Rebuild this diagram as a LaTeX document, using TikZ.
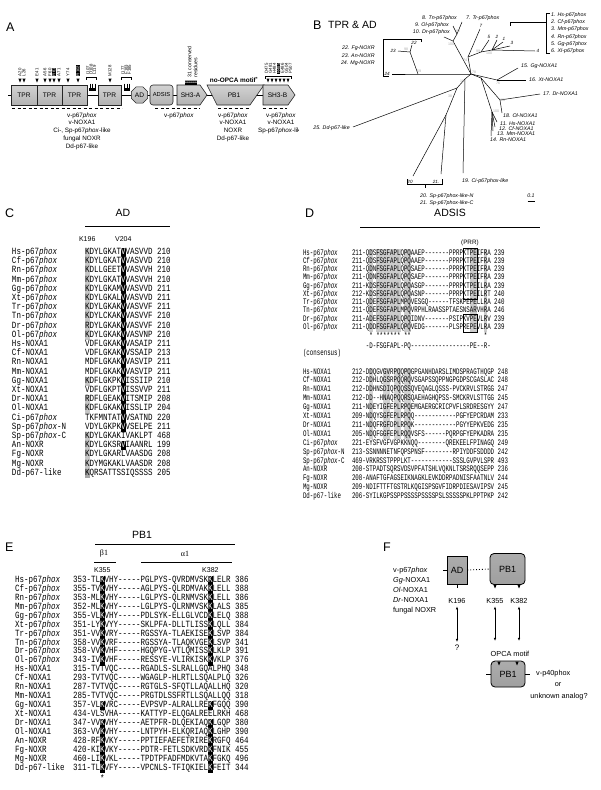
\documentclass[tikz,border=0pt]{standalone}
\usepackage{fontspec}
\setmainfont{Liberation Sans}
\newfontfamily\sqfont[FakeStretch=0.79]{Liberation Mono}
\newfontfamily\sqdfont[FakeStretch=0.68]{Liberation Mono}
\newfontfamily\serfont{Liberation Serif}
\usetikzlibrary{shapes.geometric,arrows.meta}
\newlength\cwl
\newlength\cwdl
\newlength\rowhl
\setlength\rowhl{9.2pt}
\newcommand\sqf{\sqfont\fontsize{9.5}{10}\selectfont}
\newcommand\sqdf{\sqdfont\fontsize{8.5}{9}\selectfont}
\newcommand\bk[1]{\makebox[0pt][l]{\rule[-2.7pt]{\cwl}{\rowhl}}\textcolor{white}{#1}}
\newcommand\gy[1]{\makebox[0pt][l]{\textcolor{gray!45}{\rule[-2.7pt]{\cwl}{\rowhl}}}#1}
\newcommand\dg[1]{\makebox[0pt][l]{\textcolor{gray!70}{\rule[-2.7pt]{\cwl}{\rowhl}}}#1}
\newcommand\bld[1]{\hspace*{#1\cwdl}}
\newcommand\phx{\textit{phox}}
\newcommand\Crow[3]{\node[sq] (cn#1) at (12,{254.5+9.2*#1}) {#2}; \node[sq] (cs#1) at (85,{254.5+9.2*#1}) {#3};}
\newcommand\Drow[3]{\node[sqd] (dn#1) at (303,{255+8.25*#1}) {#2}; \node[sqd] (ds#1) at (352,{255+8.25*#1}) {#3};}
\newcommand\Dnrow[3]{\node[sqd] (dm#1) at (303,{374+8.9*#1}) {#2}; \node[sqd] (dt#1) at (352,{374+8.9*#1}) {#3};}
\newcommand\Erow[3]{\node[sq] (en#1) at (15,{582.5+8.93*#1}) {#2}; \node[sq] (es#1) at (73,{582.5+8.93*#1}) {#3};}
\begin{document}
\settowidth{\cwl}{\sqf M}%
\settowidth{\cwdl}{\sqdf M}%
\begin{tikzpicture}[x=1pt,y=-1pt,
  sq/.style={font=\sqf, anchor=base west, inner sep=0pt, outer sep=0pt},
  sqd/.style={font=\sqdf, anchor=base west, inner sep=0pt, outer sep=0pt},
  lab/.style={font=\fontsize{6.3}{7.7}\selectfont, inner sep=0pt, align=center},
  plbl/.style={font=\fontsize{12.5}{13}\selectfont, inner sep=0pt, anchor=west},
  ttl/.style={font=\fontsize{10.5}{11}\selectfont, inner sep=0pt},
  tl/.style={font=\fontsize{5.3}{6}\selectfont\itshape, inner sep=0pt},
  tn/.style={font=\fontsize{4.6}{5}\selectfont\itshape, inner sep=0pt},
  bsv/.style={font=\fontsize{3.6}{4}\selectfont, text=gray!65, inner sep=0pt},
  vl/.style={font=\fontsize{4.3}{5}\selectfont, inner sep=0.3pt, rotate=90, anchor=west},
  vlb/.style={vl, fill=black, text=white},
  dfill/.style={draw=black!85, line width=0.6pt, top color=gray!35, middle color=gray!5, bottom color=gray!60},
  dtext/.style={font=\fontsize{6.6}{7}\selectfont, inner sep=0pt},
  dbox/.style={dfill, dtext, minimum height=20pt},
  tree/.style={line width=0.5pt},
  fbox/.style={draw=black, line width=0.8pt, top color=gray!65, middle color=white, bottom color=gray!75, font=\fontsize{9}{9}\selectfont, inner sep=0pt},
  flab/.style={font=\fontsize{7.3}{10}\selectfont, inner sep=0pt},
  dbl/.style={{Latex[length=3.2pt,width=2.6pt]}-{Latex[length=3.2pt,width=2.6pt]}, line width=0.7pt},
  dsh/.style={dash pattern=on 3.2pt off 2.3pt, line width=1pt}
]
\pgfmathsetmacro\cw{\cwl}
\pgfmathsetmacro\cwd{\cwdl}
\useasboundingbox (0,0) rectangle (600,790);
\fill[white] (0,0) rectangle (600,790);

% ================= PANEL A =================
\node[plbl] (lA) at (6,27) {A};
\draw[line width=0.9pt] (8,95) -- (263,95);
\node[dbox, minimum width=26pt] (t1) at (24,95) {TPR};
\node[dbox, minimum width=25pt] (t2) at (49.5,95) {TPR};
\node[dbox, minimum width=25pt] (t3) at (74.5,95) {TPR};
\node[dbox, minimum width=23pt] (t4) at (109.5,95) {TPR};
\node[dbox, regular polygon, regular polygon sides=8, minimum size=17.5pt] (ad) at (139.5,95) {AD};
\node[dbox, rounded corners=3pt, minimum width=23pt, font=\fontsize{5.8}{6}\selectfont] (adsis) at (161.5,95) {ADSIS};
\draw[dfill] (177,85) -- (200,85) -- (207,95) -- (200,105) -- (177,105) -- cycle;
\node[dtext] (sh3a) at (190.5,95) {SH3-A};
\draw[dfill] (207,85) -- (264,85) -- (250,105) -- (217,105) -- cycle;
\node[dtext] (pb1a) at (234,95) {PB1};
\draw[dfill] (263,85) -- (288,85) -- (295,95) -- (288,105) -- (263,105) -- cycle;
\node[dtext] (sh3b) at (277.5,95) {SH3-B};
\foreach \x in {20,24,37,45,50,54,59,68,78,110}
  \fill (\x-1.6,78.5) -- (\x+1.6,78.5) -- (\x,82.5) -- cycle;
\node[vl] (rA20) at (20,76.5) {A20};
\node[vl] (rL26) at (24,76.5) {L26};
\node[vl] (rE41) at (37,76.5) {E41};
\node[vl] (rA56) at (45,76.5) {A56};
\node[vl] (rF60) at (50,76.5) {F60};
\node[vlb] (rR61) at (54,76.5) {R61};
\node[vl] (rA71) at (59,76.5) {A71};
\node[vl] (rY74) at (68,76.5) {Y74};
\node[vlb] (rR102) at (78,76.5) {R102};
\node[vl] (rM128) at (110,76.5) {M128};
\draw (86,79.5) -- (86,77) -- (96,77) -- (96,79.5);
\fill (89,87.5) rectangle (96,91);
\foreach \x in {90,92.5,95} \draw[line width=0.7pt] (\x,83.5) -- (\x,87.5);
\node[vl] (rI107) at (88,75) {I107};
\node[vl] (rD108) at (91.2,75) {D108};
\node[vl] (rL119) at (94.4,75) {L119};
\draw (121,79.5) -- (121,77) -- (131,77) -- (131,79.5);
\fill (123.5,87.5) rectangle (130,91);
\foreach \x in {124.5,127,129.5} \draw[line width=0.7pt] (\x,83.5) -- (\x,87.5);
\node[vl] (rI177) at (123,75) {I177};
\node[vl] (rF183) at (126.2,75) {F183};
\node[vl] (rF185) at (129.4,75) {F185};
\foreach \x in {186,188,...,196} \fill (\x-1,80.5) -- (\x+1,80.5) -- (\x,84.5) -- cycle;
\fill (185,83.2) rectangle (197,85);
\node[vl, font=\fontsize{5.2}{6}\selectfont] (cons1) at (189.5,78) {31 conserved};
\node[vl, font=\fontsize{5.2}{6}\selectfont] (cons2) at (195.5,78) {residues};
\draw (265,78.5) -- (265,76) -- (291,76) -- (291,78.5);
\foreach \x in {268,272,276,280,284,288} \fill (\x-1.5,78.5) -- (\x+1.5,78.5) -- (\x,82.5) -- cycle;
\node[vl] (rD475) at (266.5,74) {D475};
\node[vl] (rG481) at (270.5,74) {G481};
\node[vl] (rH484) at (274.5,74) {H484};
\node[vlb] (rR485) at (278.5,74) {R485};
\node[vl] (rE486) at (282.5,74) {E486};
\node[vl] (rG504) at (286.5,74) {G504};
\node[vl] (rP507) at (290.5,74) {P507};
\node[font=\bfseries\fontsize{6.4}{7}\selectfont, inner sep=0pt] (nopca) at (234,80) {no-OPCA motif\textsuperscript{*}};
\draw[dsh] (12,108.5) -- (122,108.5);
\draw[dsh] (155,108.5) -- (200,108.5);
\draw[dsh] (218,108.5) -- (249,108.5);
\draw[dsh] (263,108.5) -- (287,108.5);
\node[lab, anchor=north] (la1) at (82,112.5) {v-p67\phx\\v-NOXA1\\Ci-, Sp-p67\phx-like\\fungal NOXR\\Dd-p67-like};
\node[lab, anchor=north] (la2) at (179,112.5) {v-p67\phx};
\node[lab, anchor=north] (la3) at (233,112.5) {v-p67\phx\\v-NOXA1\\NOXR\\Dd-p67-like};
\begin{scope}
\clip (250,100) rectangle (298.5,150);
\node[lab, anchor=north] (la4) at (281,112.5) {v-p67\phx\\v-NOXA1\\Sp-p67\phx-like};
\end{scope}

% ================= PANEL B =================
\node[plbl] (lB) at (313,25) {B};
\node[ttl, anchor=west] (lBt) at (328,25) {TPR \& AD};
\coordinate (c0) at (471,74);
\coordinate (p1) at (468,57); \coordinate (l7) at (480,29);
\coordinate (p2) at (481,52); \coordinate (l5) at (489,40);
\coordinate (p3) at (492,50); \coordinate (l2) at (497,40);
\coordinate (l1) at (503,42); \coordinate (l3) at (510,46); \coordinate (l4) at (535,51);
\coordinate (q1) at (453,41); \coordinate (l10) at (444,37);
\coordinate (q2) at (457,34); \coordinate (l8) at (462,22); \coordinate (l9) at (453,26);
\coordinate (r1) at (418,74); \coordinate (l24) at (392,74);
\coordinate (r2) at (410,52); \coordinate (l23) at (398,51); \coordinate (l22) at (412,45);
\coordinate (s1) at (497,80); \coordinate (l15) at (518,68); \coordinate (l16) at (526,80);
\coordinate (t1c) at (481,78); \coordinate (t2c) at (500,100);
\coordinate (l17) at (540,94); \coordinate (l18) at (502,113);
\coordinate (t3c) at (492,112);
\coordinate (l11) at (497,122); \coordinate (l12) at (495,127);
\coordinate (l13) at (493,131); \coordinate (l14) at (491,136);
\coordinate (u1) at (465,79); \coordinate (l19) at (463,173);
\coordinate (u2) at (457,88); \coordinate (l25) at (353,127);
\coordinate (u3) at (446,115); \coordinate (l20) at (413,176); \coordinate (l21) at (441,174);
\draw[tree] (c0) -- (p1) -- (l7);
\draw[tree] (p1) -- (p2) -- (l5);
\draw[tree] (p2) -- (p3) -- (l2);
\draw[tree] (p3) -- (l1);
\draw[tree] (p3) -- (l3);
\draw[tree] (p3) -- (l4);
\draw[tree] (c0) -- (q1) -- (l10);
\draw[tree] (q1) -- (q2) -- (l8);
\draw[tree] (q2) -- (l9);
\draw[tree] (c0) -- (r1) -- (l24);
\draw[tree] (r1) -- (r2) -- (l23);
\draw[tree] (r2) -- (l22);
\draw[tree] (c0) -- (s1) -- (l15);
\draw[tree] (s1) -- (l16);
\draw[tree] (c0) -- (t1c) -- (t2c) -- (l17);
\draw[tree] (t2c) -- (l18);
\draw[tree] (t1c) -- (t3c) -- (l11);
\draw[tree] (t3c) -- (l12);
\draw[tree] (t3c) -- (l13);
\draw[tree] (t3c) -- (l14);
\draw[tree] (c0) -- (u1) -- (l19);
\draw[tree] (u1) -- (u2) -- (l25);
\draw[tree] (u2) -- (u3) -- (l20);
\draw[tree] (u3) -- (l21);
\node[tn] (n7) at (481,26) {7};
\node[tn] (n5) at (489,37) {5};
\node[tn] (n2) at (497,37) {2};
\node[tn] (n1) at (504,39) {1};
\node[tn] (n3) at (512,43) {3};
\node[tn, anchor=west] (n4) at (536.5,51) {4};
\node[tn, anchor=east] (n24) at (390,74) {24};
\node[tn, anchor=east] (n23) at (396,51) {23};
\node[tn] (n22) at (414,42.5) {22};
\node[tn] (n20) at (410,181.5) {20};
\node[tn] (n21) at (436,181.5) {21.};
\node[bsv] (b74) at (465,60) {74};
\node[bsv] (b99) at (478,51) {99};
\node[bsv] (b100a) at (489,53) {100};
\node[bsv] (b92) at (458,31) {92};
\node[bsv] (b100b) at (451,44) {100};
\node[bsv] (b98) at (406,49) {98};
\node[bsv] (b69) at (419,71) {69};
\node[bsv] (b78) at (474,72) {78};
\node[bsv] (b76) at (498,83.5) {76};
\node[bsv] (b100c) at (502,100) {100};
\node[bsv] (b100d) at (496,111.5) {100};
\node[bsv] (b19) at (462,81) {19};
\node[bsv] (b38) at (450,96) {38};
\node[bsv] (b77) at (444,122) {77};
\draw[tree] (510,25.5) -- (510,22.7) -- (546.7,22.7);
\draw[tree] (549.5,13) -- (546.7,13) -- (546.7,53.5) -- (549.5,53.5);
\draw[tree] (421,42) -- (421,39) -- (383,39) -- (383,76) -- (389,76);
\draw[tree] (407,179) -- (407,184) -- (442,184) -- (442,179);
\draw[tree] (425,184) -- (425,188);
\node[tl, anchor=west] (b1) at (551,15) {1. Hs-p67phox};
\node[tl, anchor=west] (b2) at (551,22.3) {2. Cf-p67phox};
\node[tl, anchor=west] (b3) at (551,29.6) {3. Mm-p67phox};
\node[tl, anchor=west] (b4) at (551,36.9) {4. Rn-p67phox};
\node[tl, anchor=west] (b5) at (551,44.2) {5. Gg-p67phox};
\node[tl, anchor=west] (b6) at (551,51.5) {6. Xl-p67phox};
\node[tl, anchor=west] (b7) at (466,18) {7. Tr-p67phox};
\node[tl, anchor=east] (b8) at (457,18) {8. Tn-p67phox};
\node[tl, anchor=east] (b9) at (449,25) {9. Ol-p67phox};
\node[tl, anchor=east] (b10) at (450,32) {10. Dr-p67phox};
\node[tl, anchor=east] (b22) at (375,48) {22. Fg-NOXR};
\node[tl, anchor=east] (b23) at (375,55.7) {23. An-NOXR};
\node[tl, anchor=east] (b24) at (375,63.4) {24. Mg-NOXR};
\node[tl, anchor=west] (b15) at (521,66) {15. Gg-NOXA1};
\node[tl, anchor=west] (b16) at (529,80) {16. Xt-NOXA1};
\node[tl, anchor=west] (b17) at (543,94) {17. Dr-NOXA1};
\node[tl, anchor=west] (b18) at (503,116) {18. Ol-NOXA1};
\node[tl, anchor=west] (b11) at (500,123.5) {11. Hs-NOXA1};
\node[tl, anchor=west] (b12) at (499,128.5) {12. Cf-NOXA1};
\node[tl, anchor=west] (b13) at (497,133.5) {13. Mm-NOXA1};
\node[tl, anchor=west] (b14) at (490,140) {14. Rn-NOXA1};
\node[tl, anchor=east] (b25) at (350,128) {25. Dd-p67-like};
\node[tl, anchor=west] (b19l) at (462,181) {19. Ci-p67phox-like};
\node[tl, anchor=west] (b20) at (420,196) {20. Sp-p67phox-like-N};
\node[tl, anchor=west] (b21) at (420,203) {21. Sp-p67phox-like-C};
\node[tl] (scl) at (531,196) {0.1};
\draw[line width=1pt] (527.5,201) -- (534.5,201);

% ================= PANEL C =================
\node[plbl] (lC) at (5,213) {C};
\node[ttl] (tAD) at (123,213) {AD};
\draw[line width=0.8pt] (85,226) -- (170,226);
\node[font=\fontsize{7}{8}\selectfont, inner sep=0pt] (k196c) at ({85+0.5*\cw},239) {K196};
\node[font=\fontsize{7}{8}\selectfont, inner sep=0pt] (v204c) at ({85+8.5*\cw},239) {V204};
\setlength\rowhl{9.2pt}
\Crow{0}{Hs-p67\phx}{\gy{K}DYLGKAT\bk{V}VASVVD 210}
\Crow{1}{Cf-p67\phx}{\gy{K}DYLGKAT\bk{V}VASVVD 210}
\Crow{2}{Rn-p67\phx}{\gy{K}DLLGEET\bk{V}VASVVH 210}
\Crow{3}{Mm-p67\phx}{\gy{K}DYLGKAT\bk{V}VASVVH 210}
\Crow{4}{Gg-p67\phx}{\gy{K}DYLGKAM\bk{V}VASVVD 211}
\Crow{5}{Xt-p67\phx}{\gy{K}DYLGKAL\bk{V}VASVVD 211}
\Crow{6}{Tr-p67\phx}{\gy{K}DYLGKAK\bk{V}VASVVF 211}
\Crow{7}{Tn-p67\phx}{\gy{K}DYLCKAK\bk{V}VASVVF 210}
\Crow{8}{Dr-p67\phx}{\gy{R}DYLGKAK\bk{V}VASVVF 210}
\Crow{9}{Ol-p67\phx}{\gy{K}DYLGKAK\bk{V}VASVNP 210}
\Crow{10}{Hs-NOXA1}{VDFLGKAK\bk{V}VASAIP 211}
\Crow{11}{Cf-NOXA1}{VDFLGKAK\bk{V}VSSAIP 213}
\Crow{12}{Rn-NOXA1}{MDFLGKAK\bk{V}VASVIP 211}
\Crow{13}{Mm-NOXA1}{MDFLGKAK\bk{V}VASVIP 211}
\Crow{14}{Gg-NOXA1}{\gy{K}DFLGKPK\bk{V}ISSIIP 210}
\Crow{15}{Xt-NOXA1}{VDFLGKPT\bk{V}ISSVVP 211}
\Crow{16}{Dr-NOXA1}{\gy{R}DFLGEAK\bk{V}ITSMIP 208}
\Crow{17}{Ol-NOXA1}{\gy{K}DFLGKAK\bk{V}ISSLIP 204}
\Crow{18}{Ci-p67\phx}{TKFMNTAT\bk{V}VSATND 220}
\Crow{19}{Sp-p67\phx-N}{VDYLGKPK\bk{V}VSELPE 211}
\Crow{20}{Sp-p67\phx-C}{\gy{K}DYLGKAKIVAKLPT 468}
\Crow{21}{An-NOXR}{\gy{K}DYLGKSR\bk{V}IAANRL 199}
\Crow{22}{Fg-NOXR}{\gy{K}DYLGKARLVAASDG 208}
\Crow{23}{Mg-NOXR}{\gy{K}DYMGKAKLVAASDR 208}
\Crow{24}{Dd-p67-like}{\dg{K}QRSATTSSIQSSSS 205}

% ================= PANEL D =================
\node[plbl] (lD) at (305,213) {D};
\node[ttl] (tADSIS) at (450,213) {ADSIS};
\draw[line width=0.8pt] (360,227) -- (540,227);
\node[font=\fontsize{6.3}{7}\selectfont, inner sep=0pt] (prr) at ({352+34*\cwd},243) {(PRR)};
\foreach \ca/\cb in {1/1,3/9,11/12,30/31,34/34}
  \fill[gray!40] ({352+(4+\ca)*\cwd},248.5) rectangle ({352+(5+\cb)*\cwd},331.9);
\foreach \ca/\cb in {1/1,5/6,8/9,11/12}
  \fill[gray!35] ({352+(4+\ca)*\cwd},367.5) rectangle ({352+(5+\cb)*\cwd},439);
\draw[line width=0.5pt] ({352+32*\cwd},248.5) rectangle ({352+36*\cwd},298.9);
\draw[line width=0.5pt] ({352+32*\cwd},314.5) rectangle ({352+36*\cwd},331.9);
\Drow{0}{Hs-p67\phx}{211-QDSFSGFAPLQPQAAEP-------PPRPKTPEIFRA 239}
\Drow{1}{Cf-p67\phx}{211-QDSFSGFAPLQPQAAEP-------PPRPKTPEIFRA 239}
\Drow{2}{Rn-p67\phx}{211-QDNFSGFAPLQPQSAEP-------PPRPKTPEIFRA 239}
\Drow{3}{Mm-p67\phx}{211-QDNFSGFAPLQPQSAEP-------PPRPKTPEIFRA 239}
\Drow{4}{Gg-p67\phx}{211-KDSFSGFAPLQPQASGP-------PPRPKTPEILRA 239}
\Drow{5}{Xt-p67\phx}{212-KDSFSGFAPLQPQASNP-------PPRPKTPEILRT 240}
\Drow{6}{Tr-p67\phx}{211-QDEFSGFAPLMPQVESGQ------TFSKPEPELLRA 240}
\Drow{7}{Tn-p67\phx}{211-QDEFSGFAPLMPQVRPHLRAASSPTAESNSARVHRA 246}
\Drow{8}{Dr-p67\phx}{211-ADEFSGFAPLQPQIDNV-------PSIPKVPEVLRV 239}
\Drow{9}{Ol-p67\phx}{211-QDDFSGFAPLQPQVEDG-------PLSPREPEVLRA 239}
\node[sqd] (stars) at (352,338) {\bld{5}*\bld{1}*******\bld{1}**\bld{21}*};
\node[sqd] (consq) at (352,348) {\bld{4}-D-FSGFAPL-PQ-----------------PE--R-};
\node[sqd] (consl) at (303,355) {(consensus)};
\Dnrow{0}{Hs-NOXA1}{212-DDQGVGVRPQQPQGPGANHDARSLIMDSPRAGTHQGP 248}
\Dnrow{1}{Cf-NOXA1}{212-DDHLQGSRPQQRQVSGAPSSQPPNGPGDPSCGASLAC 248}
\Dnrow{2}{Rn-NOXA1}{212-DDHNSDIQPQQSSQVEQAGLQSSS-PVCKRVLSTRGG 247}
\Dnrow{3}{Mm-NOXA1}{212-DD--HNAQPQQRSQAEHAGHQPSS-SMCKRVLSTTGG 245}
\Dnrow{4}{Gg-NOXA1}{211-NDEYIGFEPLRPQEMGAERGCRICPVFLSRDRESGYY 247}
\Dnrow{5}{Xt-NOXA1}{209-NDQYSGFEPLRPQQ------------PGFYEPCRDAM 233}
\Dnrow{6}{Dr-NOXA1}{211-NDQFRGFDPLRPQK------------PGYYEPKVEDG 235}
\Dnrow{7}{Ol-NOXA1}{205-NDQFGGFEPLRQQVSFS------PQRPGFYEPKADRA 235}
\Dnrow{8}{Ci-p67\phx}{221-EYSFVGFVGPKKNQQ--------QREKEELFPINAGQ 249}
\Dnrow{9}{Sp-p67\phx-N}{213-SSNNNNETNFQPSPNSF--------RPIYDDFSDDDD 242}
\Dnrow{10}{Sp-p67\phx-C}{469-VRKRSSTPPPLKT------------SSSLGVPVLSPR 493}
\Dnrow{11}{An-NOXR}{200-STPADTSQRSVDSVPFATSHLVQKNLTSRSRQQSEPP 236}
\Dnrow{12}{Fg-NOXR}{208-ANAFTGFAGSEIKNAGKLEVKDDRPADNISFAATNLV 244}
\Dnrow{13}{Mg-NOXR}{209-NDIFTTFTGSTRLKQGISPSGVFIDRPDIESAVIPSV 245}
\Dnrow{14}{Dd-p67-like}{206-SYILKGPSSPPSSSSPSSSSPSLSSSSSPKLPPTPKP 242}

% ================= PANEL E =================
\node[plbl] (lE) at (5,547) {E};
\node[ttl] (tPB1) at (142,535) {PB1};
\draw[line width=0.8pt] (95,544) -- (235,544);
\node[font=\serfont\fontsize{8}{9}\selectfont, inner sep=0pt] (beta) at (104,553.5) {β1};
\node[font=\serfont\fontsize{8}{9}\selectfont, inner sep=0pt] (alpha) at (185,553.5) {α1};
\draw[line width=0.8pt] (94,562) -- (116,562);
\draw[line width=0.8pt] (141,562) -- (232,562);
\node[font=\fontsize{7}{8}\selectfont, inner sep=0pt] (k355e) at ({73+6.5*\cw},570.5) {K355};
\node[font=\fontsize{7}{8}\selectfont, inner sep=0pt] (k382e) at ({73+30.5*\cw},570.5) {K382};
\setlength\rowhl{8.93pt}
\Erow{0}{Hs-p67\phx}{353-TL\bk{K}VHY-----PGLPYS-QVRDMVSK\bk{K}LELR 386}
\Erow{1}{Cf-p67\phx}{355-TV\bk{K}VHY-----AGLPYS-QLRDMVAK\bk{K}LELL 388}
\Erow{2}{Rn-p67\phx}{353-ML\bk{K}VHY-----LGLPYS-QLRNMVSK\bk{K}LELL 386}
\Erow{3}{Mm-p67\phx}{352-ML\bk{K}VHY-----LGLPYS-QLRNMVSK\bk{K}LALS 385}
\Erow{4}{Gg-p67\phx}{355-VL\bk{K}VHY-----PDLSYK-ELLGLVCD\bk{K}LELQ 388}
\Erow{5}{Xt-p67\phx}{351-LY\bk{K}VYY-----SKLPFA-DLLTLISS\bk{K}LQLL 384}
\Erow{6}{Tr-p67\phx}{351-VV\bk{K}VRY-----RGSSYA-TLAEKISE\bk{K}LSVP 384}
\Erow{7}{Tn-p67\phx}{358-VV\bk{K}VRF-----RGSSYA-TLAQKVGE\bk{K}LSVP 341}
\Erow{8}{Dr-p67\phx}{358-VV\bk{K}VHF-----HGQPYG-VTLQMISS\bk{K}LKLP 391}
\Erow{9}{Ol-p67\phx}{343-IV\bk{K}VHF-----RESSYE-VLIRKISK\bk{K}VKLP 376}
\Erow{10}{Hs-NOXA1}{315-TVTVQC-----RGADLS-SLRALLGQALPHQ 348}
\Erow{11}{Cf-NOXA1}{293-TVTVQC-----WGAGLP-HLRTLLSQALPLQ 326}
\Erow{12}{Rn-NOXA1}{287-TVTVQC-----RGTGLS-SFQTLLAQALLHQ 320}
\Erow{13}{Mm-NOXA1}{285-TVTVQC-----PRGTDLSSFRTLLSQALLQQ 318}
\Erow{14}{Gg-NOXA1}{357-VL\bk{K}VRC-----EVPSVP-ALRALLRE\bk{K}FGQQ 390}
\Erow{15}{Xt-NOXA1}{434-VLSVHA-----KATTYP-ELQGALREELRKH 468}
\Erow{16}{Dr-NOXA1}{347-VV\bk{K}VHY-----AETPFR-DLQEKIAQ\bk{K}LGQP 380}
\Erow{17}{Ol-NOXA1}{363-VV\bk{K}VHY-----LNTPYH-ELKQRIAQ\bk{K}LGHP 390}
\Erow{18}{An-NOXR}{428-RF\bk{K}VKY-----PPTIEFAEFETRIRE\bk{K}RGFQ 464}
\Erow{19}{Fg-NOXR}{420-KI\bk{K}VKY-----PDTR-FETLSDKVRD\bk{K}FNIK 455}
\Erow{20}{Mg-NOXR}{460-LI\bk{K}VKL-----TPDTPFADFMDKVTA\bk{K}FGKQ 496}
\Erow{21}{Dd-p67-like}{311-TL\bk{K}VFY-----VPCNLS-TFIQKIEL\bk{K}FEIT 344}
\node[sq, anchor=base] (estar) at ({73+6.5*\cw},781) {*};

% ================= PANEL F =================
\node[plbl] (lF) at (383,547) {F};
\node[flab, anchor=north west, align=left] (flist) at (393,567) {v-p67\phx\\\textit{Gg}-NOXA1\\\textit{Ol}-NOXA1\\\textit{Dr}-NOXA1\\fungal NOXR};
\node[fbox, minimum width=20pt, minimum height=28pt] (fad) at (457,570) {AD};
\node[fbox, rounded corners=4pt, minimum width=35pt, minimum height=31pt] (fpb) at (507.5,569) {PB1};
\draw[dotted, line width=0.9pt] (fad.east) -- (fpb.west);
\draw[line width=0.8pt] (fad.west) -- ++(-4,0);
\draw[line width=0.8pt] (fad.south) -- ++(0,4);
\fill (493.3,584.5) -- (496.7,584.5) -- (495,588.5) -- cycle;
\fill (517.3,584.5) -- (520.7,584.5) -- (519,588.5) -- cycle;
\node[flab] (k196f) at (457,601) {K196};
\node[flab] (k355f) at (495,601) {K355};
\node[flab] (k382f) at (519,601) {K382};
\node[flab, font=\fontsize{8}{9}\selectfont] (qm) at (457,648) {?};
\node[flab] (opca) at (510,654) {OPCA motif};
\coordinate (e355) at (495,641);
\coordinate (e382) at (519,641);
\draw[dbl] ([yshift=-2.5pt]k196f.south) -- ([yshift=3pt]qm.north);
\draw[dbl] ([yshift=-2.5pt]k355f.south) -- (e355);
\draw[dbl] ([yshift=-2.5pt]k382f.south) -- (e382);
\node[fbox, rounded corners=4pt, minimum width=34pt, minimum height=26pt] (fpb2) at (508,674) {PB1};
\fill (497.3,661.5) -- (500.7,661.5) -- (499,665.5) -- cycle;
\fill (515.3,661.5) -- (518.7,661.5) -- (517,665.5) -- cycle;
\draw[line width=0.8pt] (fpb2.west) -- ++(-5,0);
\draw[line width=0.8pt] (fpb2.east) -- ++(5,0);
\node[flab, anchor=west] (p40) at (536,674) {v-p40phox};
\node[flab] (orr) at (558,685) {or};
\node[flab] (unk) at (559,697) {unknown analog?};
\end{tikzpicture}
\end{document}
